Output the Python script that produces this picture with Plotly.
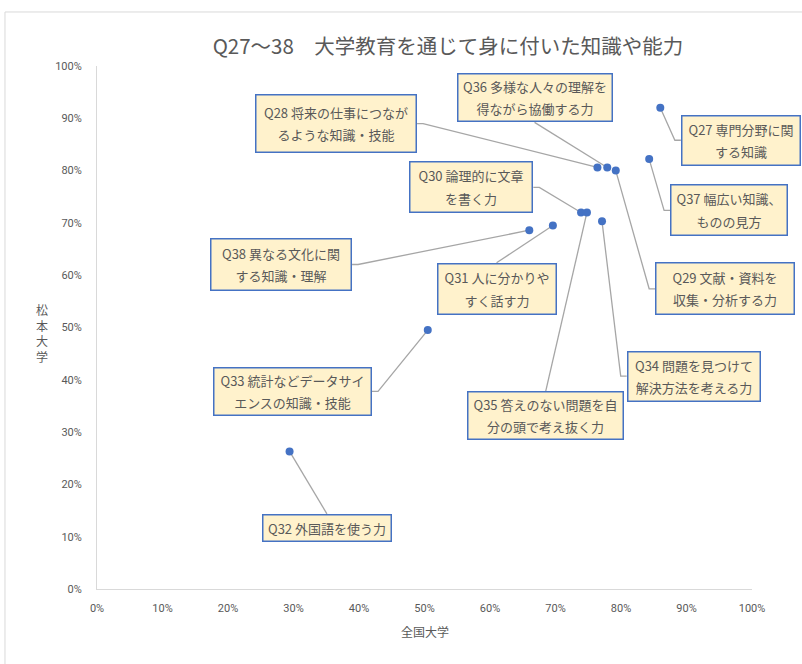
import plotly.graph_objects as go

# Survey items (Q27-Q38) and their rates: national average vs. Matsumoto University
codes = ["Q27", "Q28", "Q36", "Q29", "Q37", "Q30", "Q35", "Q34", "Q38", "Q31", "Q33", "Q32"]
line1 = ["専門分野に関", "将来の仕事につなが", "多様な人々の理解を", "文献・資料を",
         "幅広い知識、", "論理的に文章", "答えのない問題を自", "問題を見つけて",
         "異なる文化に関", "人に分かりや", "統計などデータサイ", "外国語を使う力"]
line2 = ["する知識", "るような知識・技能", "得ながら協働する力", "収集・分析する力",
         "ものの見方", "を書く力", "分の頭で考え抜く力", "解決方法を考える力",
         "する知識・理解", "すく話す力", "エンスの知識・技能", ""]
national = [0.860, 0.764, 0.779, 0.792, 0.843, 0.739, 0.748, 0.771, 0.660, 0.696, 0.505, 0.294]
matsumoto = [0.920, 0.806, 0.806, 0.800, 0.822, 0.720, 0.720, 0.703, 0.686, 0.695, 0.495, 0.263]

# Label box placement: centre x, centre y (axis units), box width/height (px),
# and the box side the leader line attaches to
label_pos = {
    "Q27": (0.983, 0.858, 120, 51, "left"),  "Q28": (0.365, 0.890, 162, 59, "right"),
    "Q36": (0.668, 0.939, 156, 49, "bottom"), "Q29": (0.959, 0.574, 140, 53, "left"),
    "Q37": (0.965, 0.724, 118, 52, "left"),  "Q30": (0.5715, 0.768, 124, 52, "right"),
    "Q35": (0.685, 0.331, 157, 49, "top"),   "Q34": (0.911, 0.407, 134, 51, "left"),
    "Q38": (0.281, 0.6205, 142, 53, "right"), "Q31": (0.610, 0.574, 120, 52, "top"),
    "Q33": (0.2985, 0.378, 159, 49, "right"), "Q32": (0.351, 0.117, 130, 28, "top"),
}

# plot-area size in px, used to convert box sizes into axis units
PW, PH = 655, 523
STUB = 6  # short horizontal stub of side-attached leader lines, px

TEXT = "#595959"
JP = "Noto Sans CJK JP, Noto Sans, sans-serif"
NUM = "Liberation Sans Narrow, Roboto, Noto Sans, sans-serif"

fig = go.Figure()

# leader lines from each point to its label box
for c, xv, yv in zip(codes, national, matsumoto):
    lx, ly, w, h, side = label_pos[c]
    hw, hh = w / 2 / PW, h / 2 / PH
    stub = STUB / PW
    if side == "left":
        xs, ys = [xv, lx - hw - stub, lx - hw], [yv, ly, ly]
    elif side == "right":
        xs, ys = [xv, lx + hw + stub, lx + hw], [yv, ly, ly]
    elif side == "top":
        xs, ys = [xv, lx], [yv, ly + hh]
    else:
        xs, ys = [xv, lx], [yv, ly - hh]
    fig.add_trace(go.Scatter(
        x=xs, y=ys, mode="lines", line=dict(color="#A6A6A6", width=1.3),
        hoverinfo="skip", showlegend=False, cliponaxis=False,
    ))

fig.add_trace(go.Scatter(
    x=national, y=matsumoto, mode="markers",
    marker=dict(color="#4472C4", size=8, line=dict(width=0)),
    hoverinfo="skip", showlegend=False, cliponaxis=False,
))

annotations = []
for c, a, b in zip(codes, line1, line2):
    lx, ly, w, h, _ = label_pos[c]
    first = f"<span style='font-size:13px'>{c} {a}</span>"
    if b:
        txt = first + "<br><br>" + f"<span style='font-size:13px'>{b}</span>"
    else:
        txt = first
    annotations.append(dict(
        x=lx, y=ly, xref="x", yref="y", text=txt, showarrow=False,
        font=dict(family=JP, size=8.5 if b else 13, color=TEXT),
        bgcolor="#FFF2CC", bordercolor="#4472C4", borderwidth=1.5, borderpad=0,
        width=w - 3, height=h - 3, align="center", valign="middle",
        xanchor="center", yanchor="middle",
    ))

# axis titles
annotations.append(dict(
    x=0.5, y=-0.082, xref="paper", yref="paper", text="全国大学", showarrow=False,
    font=dict(family=JP, size=12, color=TEXT), xanchor="center", yanchor="middle",
))
annotations.append(dict(
    x=-0.084, y=0.49, xref="paper", yref="paper", text="松<br>本<br>大<br>学",
    showarrow=False, font=dict(family=JP, size=12, color=TEXT),
    xanchor="center", yanchor="middle",
))

axis_common = dict(
    range=[0, 1], dtick=0.1, tickformat=".0%", showgrid=False, zeroline=False,
    showline=True, linecolor="#D9D9D9", linewidth=1, ticks="",
    tickfont=dict(family=NUM, size=11, color=TEXT),
)

fig.update_layout(
    width=802, height=664,
    margin=dict(l=97, r=50, t=66, b=75),
    paper_bgcolor="white", plot_bgcolor="white",
    title=dict(text="Q27～38　大学教育を通じて身に付いた知識や能力",
               x=0.5586, xref="container", xanchor="center",
               y=0.929, yref="container", yanchor="middle",
               font=dict(family=JP, size=20.5, color=TEXT)),
    xaxis=dict(**axis_common, ticklabelstandoff=9),
    yaxis=dict(**axis_common, ticklabelstandoff=12),
    annotations=annotations,
    shapes=[dict(type="rect", xref="paper", yref="paper",
                 x0=-0.1405, x1=1.2, y0=-0.2, y1=1.1033,
                 line=dict(color="#D9D9D9", width=1), fillcolor="rgba(0,0,0,0)",
                 layer="below")],
)

fig.write_html("out.html")
